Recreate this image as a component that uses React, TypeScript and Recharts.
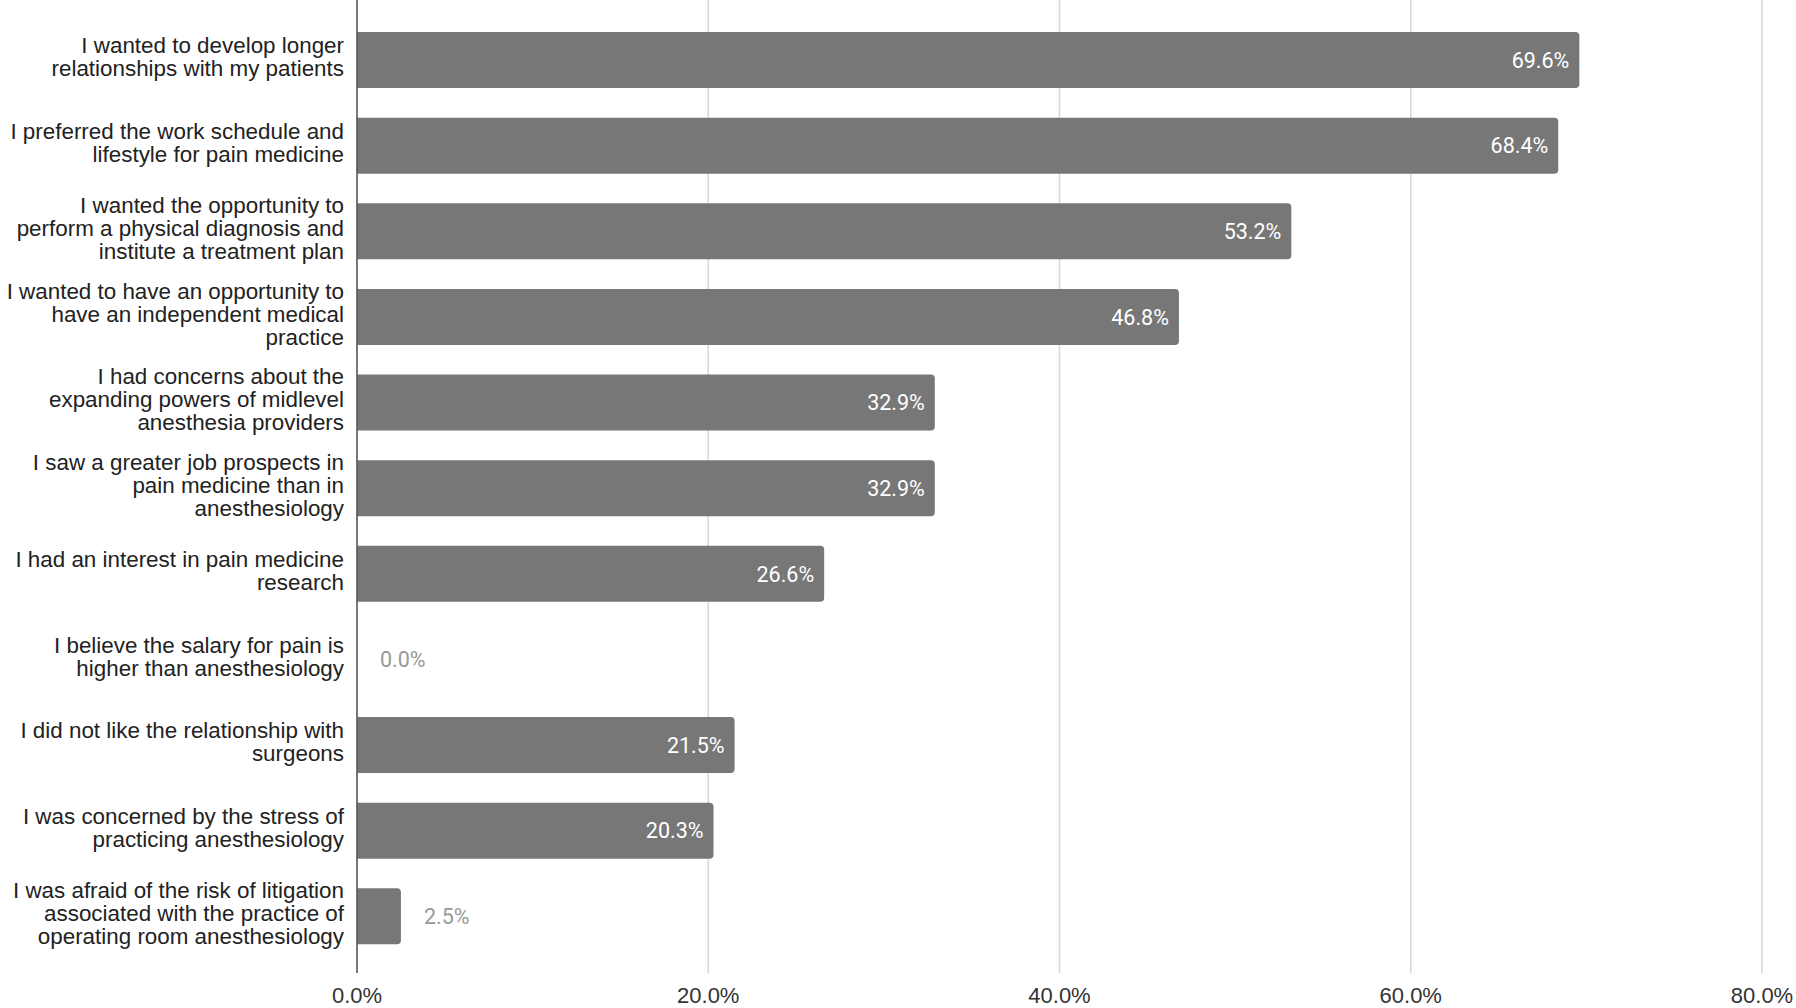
import { BarChart, Bar, XAxis, YAxis, CartesianGrid, Rectangle } from 'recharts'

const reasons = [
    'I wanted to develop longer\nrelationships with my patients',
    'I preferred the work schedule and\nlifestyle for pain medicine',
    'I wanted the opportunity to\nperform a physical diagnosis and\ninstitute a treatment plan',
    'I wanted to have an opportunity to\nhave an independent medical\npractice',
    'I had concerns about the\nexpanding powers of midlevel\nanesthesia providers',
    'I saw a greater job prospects in\npain medicine than in\nanesthesiology',
    'I had an interest in pain medicine\nresearch',
    'I believe the salary for pain is\nhigher than anesthesiology',
    'I did not like the relationship with\nsurgeons',
    'I was concerned by the stress of\npracticing anesthesiology',
    'I was afraid of the risk of litigation\nassociated with the practice of\noperating room anesthesiology',
]
const percents = [69.6, 68.4, 53.2, 46.8, 32.9, 32.9, 26.6, 0.0, 21.5, 20.3, 2.5]
const xTicks = [0, 20, 40, 60, 80]

const data = reasons.map((name, i) => ({ name, value: percents[i] }))

const BAR_COLOR = '#777777'
const LABEL_FONT = 'Liberation Sans, Arial, sans-serif'

const ReasonTick = (props: any) => {
    const { x, y, payload } = props
    const lines: string[] = String(payload.value).split('\n')
    const lh = 23
    return (
        <text
            x={x - 13}
            y={y}
            textAnchor="end"
            fontFamily={LABEL_FONT}
            fontSize={22.4}
            fill="#222"
        >
            {lines.map((line, i) => (
                <tspan key={i} x={x - 13} y={y + (i - (lines.length - 1) / 2) * lh + 5}>
                    {line}
                </tspan>
            ))}
        </text>
    )
}

// bar plus its value label; small values get the label outside in grey
const BarWithLabel = (props: any) => {
    const { x, y, width, height, value } = props
    const v = Array.isArray(value) ? value[1] : value
    const inside = v > 8
    const w = Math.max(0, width || 0)
    return (
        <g>
            {w > 0 && (
                <Rectangle x={x} y={y} width={w} height={height} fill={BAR_COLOR} radius={[0, 4, 4, 0]} />
            )}
            <text
                x={inside ? x + w - 10 : x + w + 23}
                y={y + height / 2}
                dy="0.36em"
                textAnchor={inside ? 'end' : 'start'}
                fontFamily="Roboto, sans-serif"
                fontSize={21.5}
                fill={inside ? '#ffffff' : '#999999'}
            >
                {Number(v).toFixed(1) + '%'}
            </text>
        </g>
    )
}

export default function App() {
    return (
        <div style={{ width: 1796, height: 1008, background: '#fff' }}>
            <style>{`body { margin: 0; }`}</style>
            <BarChart
                width={1796}
                height={1008}
                data={data}
                layout="vertical"
                margin={{ top: 0, right: 34, bottom: 0, left: 0 }}
                barCategoryGap={0}
            >
                <CartesianGrid horizontal={false} stroke="#d6d6d6" strokeWidth={1.5} />
                <XAxis
                    type="number"
                    domain={[0, 80]}
                    ticks={xTicks}
                    tickFormatter={(v: number) => v.toFixed(1) + '%'}
                    axisLine={false}
                    tickLine={false}
                    tickSize={0}
                    tickMargin={14}
                    height={35}
                    tick={{ fontFamily: LABEL_FONT, fontSize: 22, fill: '#333' }}
                />
                <YAxis
                    type="category"
                    dataKey="name"
                    width={357}
                    axisLine={{ stroke: '#555', strokeWidth: 1.5 }}
                    tickLine={false}
                    tickSize={0}
                    tickMargin={0}
                    padding={{ top: 17, bottom: 14 }}
                    tick={<ReasonTick />}
                    interval={0}
                />
                <Bar
                    dataKey="value"
                    fill={BAR_COLOR}
                    barSize={56}
                    shape={<BarWithLabel />}
                    isAnimationActive={false}
                />
            </BarChart>
        </div>
    )
}
